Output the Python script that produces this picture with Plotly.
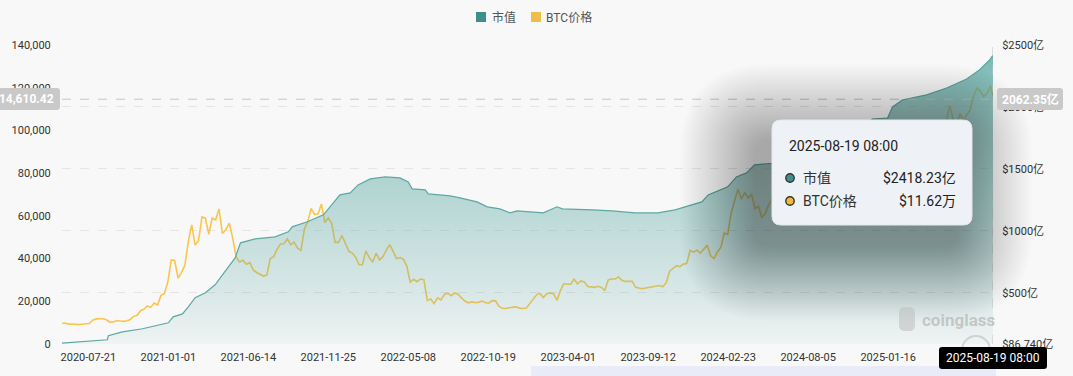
import plotly.graph_objects as go
import pandas as pd

# ---------------- data ----------------
btc_2020 = [9580, 9800, 9300, 9400, 9250, 9100, 9250, 9150, 9600, 11100, 11750, 11800, 11850, 11350,
            10200, 10350, 10950, 10750, 10600, 10900, 11500, 12950, 13450, 15600, 16300, 17800, 17150,
            19200, 18250, 22800, 23700, 29000]
btc_2021 = [39400, 39100, 30800, 33400, 36900, 47900, 55800, 46300, 48400, 59500, 58900, 51300,
            59000, 58100, 63200, 51700, 53500, 56600, 49700, 40800, 38400, 39200, 37300, 38100, 34700,
            33500, 32800, 31800, 32300, 40000, 40900, 44400, 46800, 46900, 49300, 46400, 47700, 44900,
            43800, 53800, 57400, 63500, 60600, 61000, 65500, 56900, 59000, 56500, 47600, 47600, 50800, 47100]
btc_2022 = [43500, 42600, 40700, 37200, 37100, 43600, 40500, 38300, 42500, 39400, 40900, 44000, 46500,
            43400, 39900, 40500, 39700, 36500, 28900, 30300, 29200, 30400, 30100, 20400, 21100, 18900,
            21600, 20600, 23200, 23800, 22600, 23900, 23300, 21600, 20100, 19300, 19700, 19400, 19500,
            20100, 19400, 19100, 20300, 20200, 17600, 16700, 16600, 17000, 17200, 17400, 16800, 16600]
btc_2023 = [16800, 18800, 21100, 23000, 23700, 21800, 23500, 23900, 23500, 20400, 25000, 28300, 28000,
            28000, 30400, 28200, 29500, 29000, 26900, 26800, 26500, 27000, 26500, 25100, 30000, 30400,
            30400, 31400, 29800, 29300, 29200, 29400, 26600, 26200, 25900, 26200, 26500, 26600, 27000,
            27400, 26800, 28700, 34100, 35400, 36700, 36200, 37400, 37700, 43800, 43000, 43900, 42600]
btc_2024 = [44200, 46300, 41300, 40000, 43100, 45300, 51900, 51300, 61200, 66900, 72500, 67900, 70800,
            68500, 70000, 63500, 64500, 59100, 61200, 65200, 67900, 68300, 71100, 66800, 64900, 61600,
            57000, 57300, 64000, 65800, 65300, 56500, 57600, 61000, 59000, 56200, 58100, 63000, 65200,
            60800, 60300, 67400, 68200, 70200, 75900, 87200, 98300, 95600, 98800, 100100, 97500, 95800]
btc_2025 = [96900, 92500, 100500, 103900, 104700, 96500, 96600, 98300, 84700, 89900, 80900, 84200,
            87200, 83200, 79600, 84900, 93700, 96500, 103200, 103700, 111600, 105600, 101600, 108000,
            104600, 107300, 109600, 116000, 119800, 118400, 115800, 117500, 121000]
btc_last = [116200]

btc_price = btc_2020 + btc_2021 + btc_2022 + btc_2023 + btc_2024 + btc_2025 + btc_last
btc_dates = list(pd.date_range("2020-05-28", "2025-08-14", freq="7D")) + [pd.Timestamp("2025-08-19")]
assert len(btc_dates) == len(btc_price), (len(btc_dates), len(btc_price))

cap_dates = ["2020-05-28", "2020-07-21", "2020-08-29", "2020-08-31", "2020-09-29", "2020-11-09", "2020-12-05",
             "2021-01-01", "2021-01-11", "2021-01-30", "2021-02-11", "2021-02-25", "2021-03-18", "2021-04-07",
             "2021-04-22", "2021-05-04", "2021-05-18", "2021-05-29", "2021-06-28", "2021-08-08", "2021-09-04",
             "2021-09-12", "2021-10-13", "2021-11-15", "2021-12-05", "2021-12-19", "2022-01-09", "2022-01-25",
             "2022-02-19", "2022-03-22", "2022-04-21", "2022-05-08", "2022-05-16", "2022-06-12", "2022-06-18",
             "2022-08-02", "2022-08-22", "2022-09-26", "2022-10-17", "2022-11-12", "2022-12-03", "2022-12-17",
             "2023-01-13", "2023-02-09", "2023-03-09", "2023-03-20", "2023-05-20", "2023-06-30", "2023-08-16",
             "2023-10-02", "2023-11-06", "2023-12-31", "2024-01-13", "2024-02-22", "2024-03-11", "2024-04-01",
             "2024-04-17", "2024-05-08", "2024-05-24", "2024-07-01", "2024-08-15", "2024-10-01", "2024-11-15",
             "2024-12-15", "2025-01-15", "2025-01-25", "2025-02-14", "2025-04-05", "2025-05-16", "2025-06-26",
             "2025-07-22", "2025-08-12", "2025-08-19"]
cap_values = [94, 107, 121, 153, 185, 210, 234, 258, 306, 330, 387, 460, 500, 565, 645, 710, 782, 903, 935,
              952, 992, 1032, 1073, 1129, 1226, 1290, 1306, 1371, 1419, 1435, 1427, 1395, 1339, 1331, 1298,
              1282, 1266, 1234, 1194, 1177, 1145, 1161, 1153, 1145, 1194, 1177, 1169, 1161, 1145, 1145, 1169,
              1234, 1290, 1355, 1435, 1468, 1532, 1540, 1545, 1600, 1660, 1720, 1800, 1903, 1911, 2000, 2056,
              2097, 2153, 2226, 2298, 2379, 2418.23]

x_tick_dates = ["2020-07-21", "2021-01-01", "2021-06-14", "2021-11-25", "2022-05-08", "2022-10-19",
                "2023-04-01", "2023-09-12", "2024-02-23", "2024-08-05", "2025-01-16", "2025-06-29"]
left_ticks = [0, 20000, 40000, 60000, 80000, 100000, 120000, 140000]
left_tick_text = ["0", "20,000", "40,000", "60,000", "80,000", "100,000", "120,000", "140,000"]
right_ticks = [86.74, 500, 1000, 1500, 2000, 2500]
right_tick_text = ["$86.740亿", "$500亿", "$1000亿", "$1500亿", "$2000亿", "$2500亿"]

series_names = ["市值", "BTC价格"]
tooltip_date = "2025-08-19 08:00"
tooltip_values = ["$2418.23亿", "$11.62万"]
cross_left_value = 114610.42
cross_left_text = "114,610.42"
cross_right_text = "2062.35亿"

TEAL_LINE = "#5ca8a3"
TEAL_DOT = "#3d908c"
YELLOW = "#fbc54c"
FONT = "Roboto, 'Noto Sans CJK SC', sans-serif"

# ---------------- geometry helpers ----------------
W, H = 1073, 376
L, R, T, B = 62, 80, 45, 32
PW, PH = W - L - R, H - T - B


def px(x):
    return (x - L) / PW


def py(y):
    return (H - B - y) / PH


def rrect(x0, y0, x1, y1, r):
    return (f"M {px(x0 + r)},{py(y0)} L {px(x1 - r)},{py(y0)} Q {px(x1)},{py(y0)} {px(x1)},{py(y0 + r)} "
            f"L {px(x1)},{py(y1 - r)} Q {px(x1)},{py(y1)} {px(x1 - r)},{py(y1)} "
            f"L {px(x0 + r)},{py(y1)} Q {px(x0)},{py(y1)} {px(x0)},{py(y1 - r)} "
            f"L {px(x0)},{py(y0 + r)} Q {px(x0)},{py(y0)} {px(x0 + r)},{py(y0)} Z")


fig = go.Figure()

fig.add_trace(go.Scatter(
    x=cap_dates, y=cap_values, yaxis="y2", mode="lines", name=series_names[0],
    line=dict(color=TEAL_LINE, width=1.2), fill="tozeroy",
    fillgradient=dict(type="vertical", start=0, stop=2500,
                      colorscale=[[0, "rgba(90,168,163,0.03)"], [0.2, "rgba(90,168,163,0.2)"],
                                  [0.56, "rgba(90,168,163,0.45)"], [1, "rgba(90,168,163,0.8)"]]),
    showlegend=False, hoverinfo="skip"))

fig.add_trace(go.Scatter(
    x=btc_dates, y=btc_price, yaxis="y", mode="lines", name=series_names[1],
    line=dict(color=YELLOW, width=1.6), showlegend=False, hoverinfo="skip"))

shapes = []
# crosshair
shapes.append(dict(type="line", xref="x", yref="paper", x0="2025-08-19", x1="2025-08-19", y0=0, y1=1,
                   line=dict(color="#c2c2c2", width=1, dash="dash"), layer="above"))
shapes.append(dict(type="line", xref="paper", yref="y", x0=0, x1=1, y0=cross_left_value, y1=cross_left_value,
                   line=dict(color="#c6c6c6", width=1, dash="dash"), layer="above"))

# tooltip shadow (soft, layered)
tx0, ty0, tx1, ty1 = 772, 120, 972, 225
N = 40
for i in range(N):
    e = 1.9 * (N - i)
    shapes.append(dict(type="path", xref="paper", yref="paper",
                       path=rrect(tx0 - 16 - e, ty0 + 20 - e, tx1 - 16 + e, ty1 + 20 + e, 14 + e),
                       fillcolor="rgba(30,30,30,0.0095)", line=dict(width=0), layer="above"))
# tooltip box
shapes.append(dict(type="path", xref="paper", yref="paper", path=rrect(tx0, ty0, tx1, ty1, 9),
                   fillcolor="#eef1f5", line=dict(color="#e4e7ec", width=1), layer="above"))
for cy, col in [(178, TEAL_DOT), (201, "#f2b936")]:
    rr = 4.2
    shapes.append(dict(type="circle", xref="paper", yref="paper",
                       x0=px(790 - rr), x1=px(790 + rr), y0=py(cy + rr), y1=py(cy - rr),
                       fillcolor=col, line=dict(color="#333333", width=1.4), layer="above"))

# axis pointer labels
shapes.append(dict(type="path", xref="paper", yref="paper", path=rrect(-4, 88, 60, 110, 3),
                   fillcolor="#c9c9c9", line=dict(width=0), layer="above"))
shapes.append(dict(type="path", xref="paper", yref="paper", path=rrect(997, 88, 1063, 110, 3),
                   fillcolor="#c9c9c9", line=dict(width=0), layer="above"))
shapes.append(dict(type="path", xref="paper", yref="paper", path=rrect(939, 347, 1047, 369, 3),
                   fillcolor="#000000", line=dict(width=0), layer="above"))
# bottom band
shapes.append(dict(type="rect", xref="paper", yref="paper", x0=px(531), x1=px(996), y0=py(376), y1=py(366),
                   fillcolor="#e9ecf8", line=dict(width=0), layer="below"))
# watermark logo blob
shapes.append(dict(type="path", xref="paper", yref="paper",
                   path=rrect(899, 307, 915, 331, 6), fillcolor="rgba(190,190,190,0.55)",
                   line=dict(width=0), layer="above"))
shapes.append(dict(type="circle", xref="paper", yref="paper",
                   x0=px(962), x1=px(990), y0=py(364), y1=py(336), fillcolor="rgba(0,0,0,0)",
                   line=dict(color="rgba(180,180,180,0.5)", width=2), layer="below"))
# legend swatches
shapes.append(dict(type="rect", xref="paper", yref="paper", x0=px(476), x1=px(486), y0=py(22), y1=py(12),
                   fillcolor="#3c8f8b", line=dict(width=0), layer="above"))
shapes.append(dict(type="rect", xref="paper", yref="paper", x0=px(531), x1=px(541), y0=py(22), y1=py(12),
                   fillcolor="#f0bd4a", line=dict(width=0), layer="above"))

annotations = []


def ann(x, y, text, size=12, color="#333", xanchor="left", bold=False):
    annotations.append(dict(xref="paper", yref="paper", x=px(x), y=py(y), text=(f"<b>{text}</b>" if bold else text),
                            showarrow=False, xanchor=xanchor, yanchor="middle",
                            font=dict(family=FONT, size=size, color=color)))


ann(490, 17, series_names[0], size=12, color="#555")
ann(544, 17, series_names[1], size=12, color="#555")
ann(920, 320, "coinglass", size=17, color="rgba(185,185,185,0.75)", bold=True)
ann(787, 146, tooltip_date, size=14, color="#222")
ann(801, 178, series_names[0], size=14, color="#333")
ann(801, 201, series_names[1], size=14, color="#333")
ann(958, 178, tooltip_values[0], size=14, color="#222", xanchor="right")
ann(958, 201, tooltip_values[1], size=14, color="#222", xanchor="right")
ann(56, 99, cross_left_text, size=12, color="#ffffff", xanchor="right", bold=True)
ann(1030, 99, cross_right_text, size=12, color="#ffffff", xanchor="center", bold=True)
ann(993, 358, tooltip_date, size=12, color="#ffffff", xanchor="center")

tickfont = dict(family=FONT, size=11, color="#333")
fig.update_layout(
    width=W, height=H, margin=dict(l=L, r=R, t=T, b=B, autoexpand=False),
    paper_bgcolor="#f8f8f8", plot_bgcolor="#f8f8f8",
    font=dict(family=FONT),
    hovermode=False,
    showlegend=False,
    xaxis=dict(type="date", range=["2020-05-28", "2025-08-19"], tickvals=x_tick_dates, ticktext=x_tick_dates,
               showgrid=False, zeroline=False, showline=False, ticks="outside", ticklen=3,
               tickcolor="rgba(0,0,0,0)", tickfont=tickfont),
    yaxis=dict(range=[0, 140000], tickvals=left_ticks, ticktext=left_tick_text, showgrid=False,
               zeroline=False, showline=False, ticks="outside", ticklen=8, tickcolor="rgba(0,0,0,0)",
               tickfont=tickfont),
    yaxis2=dict(overlaying="y", side="right", range=[86.74, 2500], tickvals=right_ticks,
                ticktext=right_tick_text, showgrid=True, gridcolor="#e5e5e5", griddash="dash", gridwidth=1,
                zeroline=False, showline=False, ticks="outside", ticklen=6, tickcolor="rgba(0,0,0,0)",
                tickfont=tickfont),
    shapes=shapes, annotations=annotations,
)

fig.write_html("out.html")
